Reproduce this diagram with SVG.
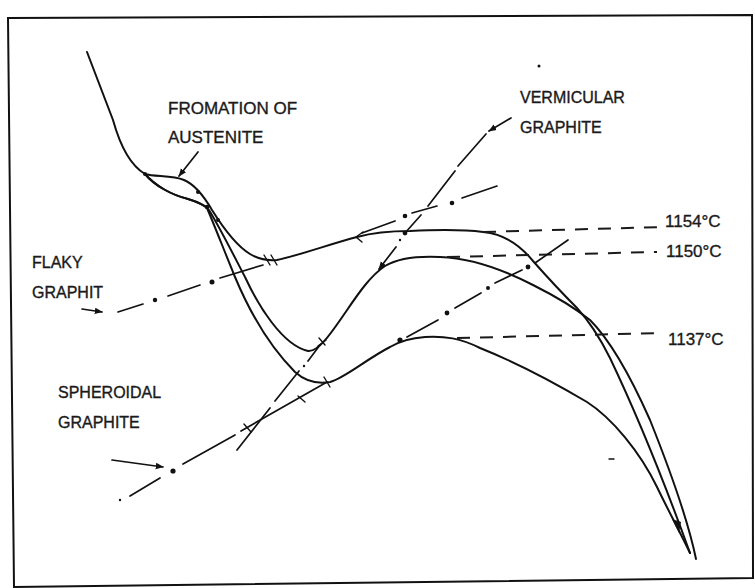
<svg xmlns="http://www.w3.org/2000/svg" width="755" height="588" viewBox="0 0 755 588">
<defs>
<marker id="ah" viewBox="0 0 10 10" refX="9" refY="5" markerWidth="8" markerHeight="8" markerUnits="userSpaceOnUse" orient="auto"><path d="M0,1 L10,5 L0,9 z" fill="#111"/></marker>
</defs>
<style>
.c{fill:none;stroke:#111;stroke-width:2;stroke-linecap:round;stroke-linejoin:round}
.d{fill:none;stroke:#1a1a1a;stroke-width:2;stroke-dasharray:13 10}
.l{fill:none;stroke:#111;stroke-width:1.7;stroke-linecap:round}
.k{fill:none;stroke:#111;stroke-width:1.4;stroke-linecap:round}
.dot{fill:#111}
.t{font-family:"Liberation Sans",Arial,sans-serif;font-size:16px;fill:#1a1a1a;stroke:#1a1a1a;stroke-width:0.35}
.big{font-size:17px}
</style>
<rect width="755" height="588" fill="#fff"/>
<path id="frame" d="M8,18 L752,15 L753,578 L14,587 Z" fill="none" stroke="#111" stroke-width="2"/>

<g id="curves">
<path id="curve-flaky" class="c" d="M87,52 L113,120 C118,138 128,164 145,174 C155,177 172,175 184,180 C196,185 205,198 212,210 C222,226 235,245 250,254 C258,259 266,261 277,260 C300,255 330,244 357,237 C375,232 392,231 410,231 C430,230 460,229 483,232 C505,234 520,245 533,261 C548,278 562,293 577,308 C590,322 600,338 610,358 C630,400 660,470 690,553"/>
<path id="curve-vermicular" class="c" d="M145,174 C155,186 172,195 188,199 C198,202 205,205 209,210 C220,228 232,252 245,277 C258,305 282,345 308,351 C318,352 330,335 345,313 C358,294 370,276 385,266 C400,257 420,256 440,257 C470,258 500,268 533,285 C555,296 575,308 590,320 C610,340 630,375 650,420 C670,470 688,520 696,559"/>
<path id="curve-spheroidal" class="c" d="M145,174 C155,186 172,195 188,199 C198,202 203,204 207,208 C213,222 222,245 235,277 C248,308 268,345 295,372 C305,381 318,384 330,382 C345,378 365,360 390,347 C400,341 410,338 425,337 C445,336 460,338 480,348 C510,360 550,380 587,402 C612,418 640,452 657,487 C668,510 680,532 690,553"/>
</g>

<g id="connectors">
<g id="isotherms">
<path class="d" d="M483,232 L662,227"/>
<path class="d" d="M447,257 L657,252"/>
<path class="d" d="M457,338 L663,333"/>
</g>
<g id="flaky-line">
<path class="l" d="M82,309 L102,312" marker-end="url(#ah)"/>
<path class="l" d="M118,312 L143,304 M168,296 L200,285 M220,278 L263,265"/>
<circle class="dot" cx="155" cy="300" r="2.2"/>
<circle class="dot" cx="212" cy="282" r="2.5"/>
<path class="l" d="M362,233 L395,221 M412,213 L437,206 M462,198 L497,186"/>
<circle class="dot" cx="405" cy="216" r="2.3"/>
<circle class="dot" cx="452" cy="203" r="2.3"/>
</g>
<g id="vermicular-line">
<path class="l" d="M511,118 L489,131" marker-end="url(#ah)"/>
<path class="l" d="M486,134 L458,166 M455,171 L428,206 M421,215 L405,233"/>
<path class="l" d="M396,247 L379,269" marker-end="url(#ah)"/>
<circle class="dot" cx="405" cy="233" r="2.4"/>
<circle class="dot" cx="400" cy="240" r="1.2"/>
<path class="l" d="M320,345 L308,361 M299,371 L275,401 M270,408 L237,450"/>
<circle class="dot" cx="304" cy="366" r="1.2"/>
</g>
<g id="spheroidal-line">
<path class="l" d="M112,460 L163,467" marker-end="url(#ah)"/>
<circle class="dot" cx="173" cy="471" r="2.6"/>
<circle class="dot" cx="120" cy="500" r="1.2"/>
<path class="l" d="M130,496 L160,478 M183,464 L235,435 M241,431 L327,382"/>
<path class="l" d="M407,337 L438,320 M455,308 L481,293 M495,283 L522,270 M535,263 L568,240"/>
<circle class="dot" cx="447" cy="313" r="2.4"/>
<circle class="dot" cx="488" cy="288" r="2"/>
<circle class="dot" cx="528" cy="267" r="2.4"/>
</g>
<path id="austenite-arrow" class="l" d="M198,152 L179,176" marker-end="url(#ah)"/>
<g id="marks">
<circle class="dot" cx="145" cy="174" r="2"/>
<circle class="dot" cx="198" cy="192" r="2"/>
<circle class="dot" cx="207" cy="207" r="2.2"/>
<circle class="dot" cx="218" cy="220" r="2"/>
<circle class="dot" cx="400" cy="340" r="2.6"/>
<path class="k" d="M264,255 L270,265 M271,255 L277,265"/>
<path class="k" d="M363,232 L356,237 L362,242"/>
<path class="k" d="M319,338 L325,345 M318,346 L326,340"/>
<path class="k" d="M324,377 L330,387 M244,424 L251,432 M298,396 L305,402"/>
<path class="dot" d="M672,519 L681,522 L679,533 Z"/>
<circle class="dot" cx="539" cy="66" r="1.5"/>
<path class="k" d="M609,459 L614,459"/>
</g>
</g>

<g id="label-austenite"><text class="t big" x="168" y="114">FROMATION OF</text><text class="t big" x="168" y="143">AUSTENITE</text></g>
<g id="label-vermicular"><text class="t" x="520" y="103">VERMICULAR</text><text class="t" x="520" y="133">GRAPHITE</text></g>
<g id="label-flaky"><text class="t" x="32" y="268">FLAKY</text><text class="t" x="32" y="298">GRAPHIT</text></g>
<g id="label-spheroidal"><text class="t" x="58" y="398">SPHEROIDAL</text><text class="t" x="58" y="428">GRAPHITE</text></g>
<g id="label-1154"><text class="t big" x="665" y="227">1154°C</text></g>
<g id="label-1150"><text class="t big" x="666" y="257">1150°C</text></g>
<g id="label-1137"><text class="t big" x="668" y="345">1137°C</text></g>
</svg>
